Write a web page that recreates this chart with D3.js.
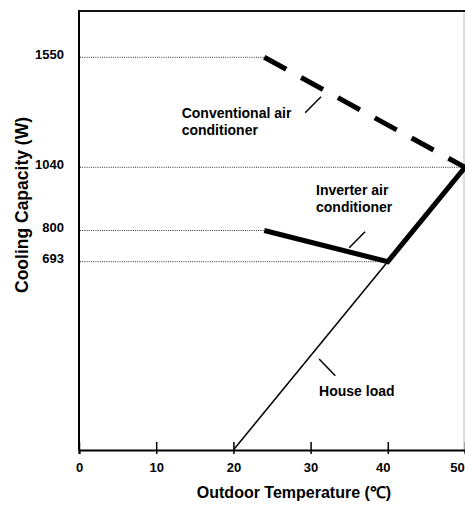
<!DOCTYPE html>
<html>
<head>
<meta charset="utf-8">
<script src="https://cdn.jsdelivr.net/npm/d3@7"></script>
<style>
  html, body { margin: 0; padding: 0; background: #fff; }
  svg { display: block; }
</style>
</head>
<body>
<svg></svg>
<script>
// --- data ---
const tempTicks = [0, 10, 20, 30, 40, 50];
const capTicks = [1550, 1040, 800, 693];
const guideEndTemp = [24, 50, 24, 40]; // dotted guide for each cap tick runs up to this temp

const houseTemp = [20, 50];
const houseLoad = [0, 1040];

const convTemp = [24, 50];
const convCap = [1550, 1040];

const invTemp = [24, 40, 50];
const invCap = [800, 693, 1040];

// labels: text lines, anchor (temp, W), leader line from/to (temp, W)
const noteText = [['Conventional air', 'conditioner'], ['Inverter air', 'conditioner'], ['House load']];
const noteAt = [[13.3, 1269], [30.7, 935], [31.1, 199]];
const leaderFrom = [[29.3, 1293], [35.0, 741], [31.1, 335]];
const leaderTo = [[31.35, 1367], [37.05, 796], [33.2, 273]];

const WIDTH = 465;
const HEIGHT = 506;
const LEFT = 79;
const TOP = 11;
const BOTTOM = 450;

const svg = d3.select('svg')
  .attr('width', WIDTH)
  .attr('height', HEIGHT)
  .attr('font-family', '"Liberation Sans", Arial, sans-serif')
  .attr('font-weight', 'bold');

const x = d3.scaleLinear().domain([0, 50]).range([LEFT, WIDTH]);
// the figure is schematic: the capacity axis is not evenly spaced
const y = d3.scaleLinear()
  .domain([0, 693, 800, 1040, 1550, 1750])
  .range([BOTTOM, 261.7, 230.5, 167.3, 57.3, TOP]);

// frame
svg.append('line')
  .attr('x1', WIDTH - 1).attr('x2', WIDTH - 1)
  .attr('y1', TOP).attr('y2', BOTTOM)
  .attr('stroke', '#bbb').attr('stroke-width', 1);
svg.append('line')
  .attr('x1', LEFT).attr('x2', WIDTH)
  .attr('y1', TOP).attr('y2', TOP)
  .attr('stroke', '#111').attr('stroke-width', 2);
svg.append('line')
  .attr('x1', LEFT).attr('x2', LEFT)
  .attr('y1', TOP - 1).attr('y2', BOTTOM)
  .attr('stroke', '#000').attr('stroke-width', 2);

// dotted guides
svg.append('g').selectAll('line')
  .data(capTicks)
  .join('line')
  .attr('x1', LEFT + 1)
  .attr('x2', (d, i) => x(guideEndTemp[i]))
  .attr('y1', d => y(d))
  .attr('y2', d => y(d))
  .attr('stroke', '#000')
  .attr('stroke-width', 0.8)
  .attr('stroke-dasharray', '1,1.2');

// capacity labels
svg.append('g').selectAll('text')
  .data(capTicks)
  .join('text')
  .attr('x', LEFT - 15)
  .attr('y', d => y(d) + 1.5)
  .attr('text-anchor', 'end')
  .attr('font-size', 13)
  .text(d => d);

// x axis
const xAxis = d3.axisBottom(x)
  .tickValues(tempTicks)
  .tickSizeOuter(0)
  .tickSize(4);

const xAxisG = svg.append('g')
  .attr('transform', `translate(0,${BOTTOM})`)
  .call(xAxis);
xAxisG.select('.domain').attr('stroke-width', 2);
xAxisG.selectAll('.tick line')
  .attr('y1', -8)
  .attr('y2', 4)
  .attr('stroke-width', 1.5);
xAxisG.selectAll('.tick text')
  .attr('y', 22)
  .attr('dy', 0)
  .attr('dx', d => d === 50 ? -8 : d === 40 ? -5 : 0)
  .attr('font-size', 13)
  .attr('font-family', '"Liberation Sans", Arial, sans-serif')
  .attr('font-weight', 'bold')
  .attr('fill', '#000');

// series
const line = d3.line().x(d => x(d[0])).y(d => y(d[1]));

svg.append('path')
  .attr('d', line(d3.zip(houseTemp, houseLoad)))
  .attr('fill', 'none')
  .attr('stroke', '#000')
  .attr('stroke-width', 1.5);

svg.append('path')
  .attr('d', line(d3.zip(convTemp, convCap)))
  .attr('fill', 'none')
  .attr('stroke', '#000')
  .attr('stroke-width', 5)
  .attr('stroke-dasharray', '25,17');

svg.append('path')
  .attr('d', line(d3.zip(invTemp, invCap)))
  .attr('fill', 'none')
  .attr('stroke', '#000')
  .attr('stroke-width', 5);

// leaders and labels
svg.append('g').selectAll('line')
  .data(leaderFrom)
  .join('line')
  .attr('x1', d => x(d[0]))
  .attr('y1', d => y(d[1]))
  .attr('x2', (d, i) => x(leaderTo[i][0]))
  .attr('y2', (d, i) => y(leaderTo[i][1]))
  .attr('stroke', '#000')
  .attr('stroke-width', 1.5);

const notes = svg.append('g').selectAll('text')
  .data(noteText)
  .join('text')
  .attr('font-size', 14)
  .attr('x', (d, i) => x(noteAt[i][0]))
  .attr('y', (d, i) => y(noteAt[i][1]));

notes.selectAll('tspan')
  .data((d, i) => d.map(t => ({t, i})))
  .join('tspan')
  .attr('x', d => x(noteAt[d.i][0]))
  .attr('dy', (d, j) => j === 0 ? 0 : 17)
  .text(d => d.t);

// axis titles
svg.append('text')
  .attr('x', 294)
  .attr('y', 498)
  .attr('text-anchor', 'middle')
  .attr('font-size', 16)
  .text('Outdoor Temperature (℃)');

svg.append('text')
  .attr('transform', 'translate(28,205) rotate(-90)')
  .attr('text-anchor', 'middle')
  .attr('font-size', 17.5)
  .text('Cooling Capacity (W)');
</script>
</body>
</html>
